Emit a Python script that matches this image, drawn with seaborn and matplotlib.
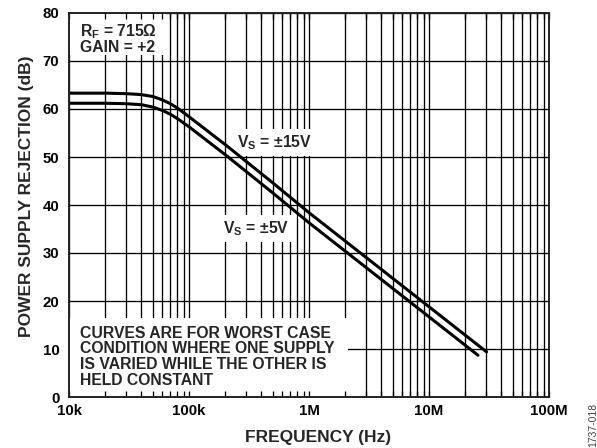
import matplotlib
matplotlib.use("Agg")
import matplotlib.pyplot as plt
import matplotlib.patches as mpatches
import seaborn as sns
import pandas as pd
import numpy as np
from matplotlib.ticker import FixedLocator, LogLocator, NullFormatter

# ---- data ----
freq_15 = [1e4, 2e4, 3e4, 4e4, 5e4, 6e4, 7e4, 8e4, 1e5, 1.5e5, 2e5, 5e5, 1e6, 2e6, 5e6, 1e7, 2e7, 3.02e7]
psr_15 = [63.3, 63.3, 63.2, 63.0, 62.6, 61.9, 61.1, 60.2, 58.4, 55.0, 52.6, 44.6, 38.4, 32.5, 24.7, 18.8, 12.9, 9.4]
freq_5 = [1e4, 2e4, 3e4, 4e4, 5e4, 6e4, 7e4, 8e4, 1e5, 1.5e5, 2e5, 5e5, 1e6, 2e6, 5e6, 1e7, 2e7, 2.56e7]
psr_5 = [61.2, 61.2, 61.1, 60.9, 60.4, 59.7, 58.9, 58.0, 56.3, 52.9, 50.5, 42.5, 36.3, 30.4, 22.6, 16.7, 10.8, 8.7]
series_names = ["VS = ±15V", "VS = ±5V"]

x_ticks = [1e4, 1e5, 1e6, 1e7, 1e8]
x_tick_labels = ["10k", "100k", "1M", "10M", "100M"]
y_ticks = [0, 10, 20, 30, 40, 50, 60, 70, 80]

note_lines = ["CURVES ARE FOR WORST CASE",
              "CONDITION WHERE ONE SUPPLY",
              "IS VARIED WHILE THE OTHER IS",
              "HELD CONSTANT"]

df = pd.concat([
    pd.DataFrame({"freq": freq_15, "psr": psr_15, "series": series_names[0]}),
    pd.DataFrame({"freq": freq_5, "psr": psr_5, "series": series_names[1]}),
])

sns.set_style("white")
plt.rcParams["font.family"] = ["Liberation Sans", "DejaVu Sans"]
plt.rcParams["font.weight"] = "bold"
plt.rcParams["mathtext.fontset"] = "custom"
plt.rcParams["mathtext.rm"] = "Liberation Sans:bold"
plt.rcParams["mathtext.bf"] = "Liberation Sans:bold"
plt.rcParams["mathtext.it"] = "Liberation Sans:bold"

W, H = 597, 448
L, R, T, B = 69, 549, 13, 397
fig = plt.figure(figsize=(W / 100, H / 100), dpi=100)
ax = fig.add_axes([L / W, 1 - B / H, (R - L) / W, (B - T) / H])

def ax_x(px):
    return (px - L) / (R - L)

def ax_y(py):
    return (B - py) / (B - T)

sns.lineplot(data=df, x="freq", y="psr", hue="series", palette=["black", "black"],
             linewidth=2.2, legend=False, ax=ax, zorder=5, sort=False,
             estimator=None)

ax.set_xscale("log")
ax.set_xlim(1e4, 1e8)
ax.set_ylim(0, 80)
ax.xaxis.set_major_locator(FixedLocator(x_ticks))
ax.set_xticklabels(x_tick_labels)
ax.xaxis.set_minor_locator(LogLocator(base=10, subs=np.arange(2, 10)))
ax.xaxis.set_minor_formatter(NullFormatter())
ax.set_yticks(y_ticks)

ax.grid(True, which="both", axis="x", color="black", linewidth=0.95)
ax.grid(True, which="major", axis="y", color="black", linewidth=0.95)
ax.set_axisbelow(True)

for s in ax.spines.values():
    s.set_visible(False)

ax.tick_params(axis="x", which="both", length=0, labelsize=10.8, pad=5, colors="black")
ax.tick_params(axis="y", which="both", length=0, labelsize=10.8, pad=7, colors="black")
for lbl in ax.get_xticklabels() + ax.get_yticklabels():
    lbl.set_fontweight("bold")

ax.set_xlabel("FREQUENCY (Hz)", fontsize=12.5, fontweight="bold")
ax.set_ylabel("POWER SUPPLY REJECTION (dB)", fontsize=12.5, fontweight="bold")
ax.xaxis.set_label_coords(ax_x(318), ax_y(430))
ax.yaxis.set_label_coords(ax_x(34), ax_y(196))

# white masks behind the annotation blocks
ax.add_patch(mpatches.Rectangle((0, ax_y(55)), ax_x(166), 1 - ax_y(55),
                                transform=ax.transAxes, facecolor="white",
                                edgecolor="none", zorder=1))
ax.add_patch(mpatches.Rectangle((0, 0), ax_x(348), ax_y(318),
                                transform=ax.transAxes, facecolor="white",
                                edgecolor="none", zorder=1))

fs = 11.3
ax.text(ax_x(80), ax_y(36), "R$_\\mathregular{F}$ = 715Ω", transform=ax.transAxes,
        fontsize=fs, fontweight="bold", va="baseline", ha="left", zorder=6)
ax.text(ax_x(80), ax_y(52), "GAIN = +2", transform=ax.transAxes,
        fontsize=fs, fontweight="bold", va="baseline", ha="left", zorder=6)

for i, line in enumerate(note_lines):
    ax.text(ax_x(80), ax_y(337.5 + 15.8 * i), line, transform=ax.transAxes,
            fontsize=fs, fontweight="bold", va="baseline", ha="left", zorder=6)

box = dict(facecolor="white", edgecolor="none", pad=3)
ax.text(2.5e5, 52.1, "V$_\\mathregular{S}$ = ±15V", fontsize=fs, fontweight="bold",
        va="baseline", ha="left", zorder=4, bbox=box)
ax.text(1.91e5, 34.1, "V$_\\mathregular{S}$ = ±5V", fontsize=fs, fontweight="bold",
        va="baseline", ha="left", zorder=4, bbox=box)

# overlay axes carrying the inward tick marks and the frame (drawn above the masks)
ax2 = ax.twiny()
ax2.set_xscale("log")
ax2.set_xlim(1e4, 1e8)
ax2.xaxis.set_major_locator(FixedLocator(x_ticks))
ax2.xaxis.set_minor_locator(LogLocator(base=10, subs=np.arange(2, 10)))
ax2.xaxis.set_major_formatter(NullFormatter())
ax2.xaxis.set_minor_formatter(NullFormatter())
ax2.xaxis.set_ticks_position("both")
ax2.tick_params(axis="x", which="both", direction="in", length=4, width=0.95,
                colors="black", labeltop=False, labelbottom=False)
ax2.grid(False)
for s in ax2.spines.values():
    s.set_visible(True)
    s.set_color("#222222")
    s.set_linewidth(1.4)

fig.text(593 / W, 1 - 447 / H, "1737-018", rotation=90, fontsize=7.5, fontweight="normal",
         color="#444444", ha="center", va="bottom")

fig.savefig("out.png", dpi=100)
